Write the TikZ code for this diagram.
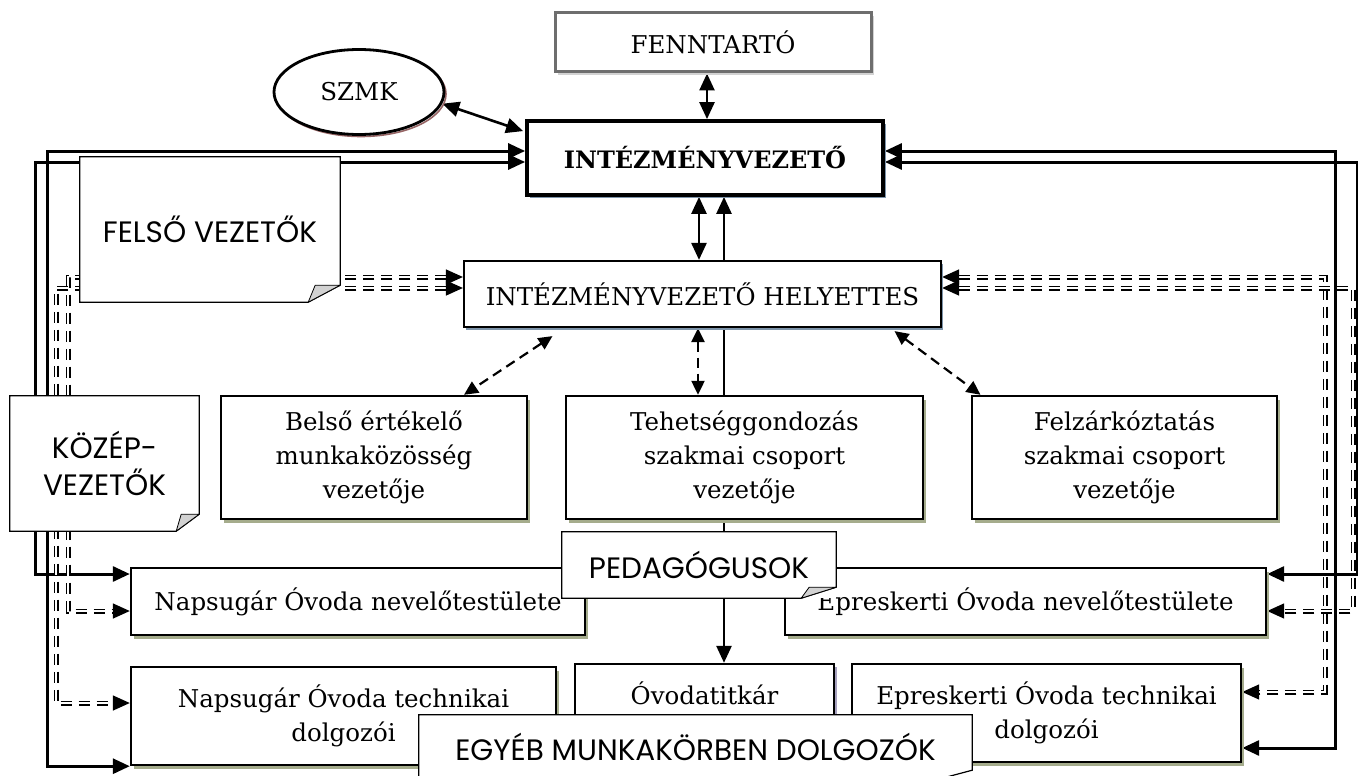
\documentclass[tikz,border=0pt]{standalone}
\usepackage{fontspec}
\setmainfont{DejaVu Serif}
\newfontfamily\gothic{Poppins}
\usetikzlibrary{arrows.meta,shapes.geometric,shadows,calc}
\pgfdeclarelayer{back}
\pgfsetlayers{back,main}
\definecolor{olivegray}{RGB}{165,172,140}
\definecolor{bluegray}{RGB}{125,148,170}
\definecolor{lavgray}{RGB}{165,160,190}
\definecolor{szmkbrown}{RGB}{150,100,100}
\definecolor{darkgray}{RGB}{110,110,110}

\begin{document}
\begin{tikzpicture}[x=1pt,y=-1pt,>={Triangle[length=17pt,width=15pt]},
  box/.style={draw, line width=2.4pt, fill=white, inner sep=0pt, align=center,
    font=\fontsize{24.5}{34}\selectfont},
  greenbox/.style={box, drop shadow={shadow xshift=3pt,shadow yshift=-4pt,opacity=1,fill=olivegray}},
  note/.style={fill=white, inner sep=0pt, align=center, font=\gothic\fontsize{29.5}{37}\selectfont},
  noteline/.style={line width=1.2pt},
  fold/.style={draw, fill=gray!35, line width=0.8pt, line join=round},
  mainline/.style={line width=3pt, <->},
  dashline/.style={line width=1.5pt, double, double distance=2pt, dash pattern=on 11pt off 7pt, <->},
  thinline/.style={line width=2.6pt, <->},
  thindash/.style={line width=2.2pt, dash pattern=on 10pt off 6pt, <->,
    >={Triangle[length=14pt,width=13pt]}}]
  \useasboundingbox (0,0) rectangle (1358,776);

  \node[box, draw=darkgray, line width=3pt, minimum width=316, minimum height=59,
    drop shadow={shadow xshift=3pt,shadow yshift=-3pt,opacity=1,fill=gray!35}] (fenn) at (713,42.5) {FENNTARTÓ};
  \node[box, line width=3.8pt, minimum width=356, minimum height=74, font=\bfseries\fontsize{24}{30}\selectfont,
    drop shadow={shadow xshift=3pt,shadow yshift=-3pt,opacity=1,fill=bluegray}] (int) at (705,158) {INTÉZMÉNYVEZETŐ};
  \node[box, line width=2.2pt, minimum width=477, minimum height=66,
    drop shadow={shadow xshift=2pt,shadow yshift=-3pt,opacity=1,fill=bluegray}] (hely) at (702.5,294) {INTÉZMÉNYVEZETŐ HELYETTES};
  \node[ellipse, draw, line width=2.8pt, fill=white, minimum width=170, minimum height=85,
    font=\fontsize{24.5}{34}\selectfont,
    preaction={draw=szmkbrown, line width=1.6pt, transform canvas={shift={(2pt,-2pt)}}}] (szmk) at (359,92) {SZMK};

  \node[greenbox, minimum width=306, minimum height=123] (belso) at (374,457.5) {Belső értékelő\\munkaközösség\\vezetője};
  \node[greenbox, minimum width=357, minimum height=123] (tehet) at (744.5,457.5) {Tehetséggondozás\\szakmai csoport\\vezetője};
  \node[greenbox, minimum width=305, minimum height=123] (felz) at (1124.5,457.5) {Felzárkóztatás\\szakmai csoport\\vezetője};
  \node[greenbox, minimum width=454, minimum height=67] (napnev) at (358,601.5) {Napsugár Óvoda nevelőtestülete};
  \node[greenbox, minimum width=481, minimum height=67] (epnev) at (1025.5,601.5) {Epreskerti Óvoda nevelőtestülete};
  \node[greenbox, minimum width=425, minimum height=98] (naptech) at (343.5,716) {Napsugár Óvoda technikai\\dolgozói};
  \node[box, minimum width=259, minimum height=58,
    drop shadow={shadow xshift=3pt,shadow yshift=-3pt,opacity=1,fill=lavgray}] (titkar) at (704.5,693) {Óvodatitkár};
  \node[greenbox, minimum width=389, minimum height=98] (eptech) at (1046.5,713) {Epreskerti Óvoda technikai\\dolgozói};

  \node[note, minimum width=260, minimum height=145] (felso) at (210,229.5) {FELSŐ VEZETŐK};
  \draw[noteline] (felso.north west) -- (felso.north east) -- ($(felso.south east)+(0,-17)$) -- ($(felso.south east)+(-32,0)$) -- (felso.south west) -- cycle;
  \filldraw[fold] ($(felso.south east)+(0,-17)$) -- ($(felso.south east)+(-25,-17)$) -- ($(felso.south east)+(-32,0)$) -- cycle;
  \node[note, minimum width=189, minimum height=135] (kozep) at (104.5,463.5) {KÖZÉP-\\VEZETŐK};
  \draw[noteline] (kozep.north west) -- (kozep.north east) -- ($(kozep.south east)+(0,-17)$) -- ($(kozep.south east)+(-23,0)$) -- (kozep.south west) -- cycle;
  \filldraw[fold] ($(kozep.south east)+(0,-17)$) -- ($(kozep.south east)+(-18,-17)$) -- ($(kozep.south east)+(-23,0)$) -- cycle;
  \node[note, minimum width=274, minimum height=66] (pedag) at (699,565) {PEDAGÓGUSOK};
  \draw[noteline] (pedag.north west) -- (pedag.north east) -- ($(pedag.south east)+(0,-11)$) -- ($(pedag.south east)+(-35,0)$) -- (pedag.south west) -- cycle;
  \filldraw[fold] ($(pedag.south east)+(0,-11)$) -- ($(pedag.south east)+(-27,-11)$) -- ($(pedag.south east)+(-35,0)$) -- cycle;
  \node[note, minimum width=553, minimum height=63] (egyeb) at (695.5,746.5) {EGYÉB MUNKAKÖRBEN DOLGOZÓK};
  \draw[noteline] (egyeb.north west) -- (egyeb.north east) -- ($(egyeb.south east)+(0,-8)$) -- ($(egyeb.south east)+(-30,0)$) -- (egyeb.south west) -- cycle;

  \begin{pgfonlayer}{back}
    \draw[mainline] (int.west |- 0,151) -| (47,400) |- (naptech.south west);
    \draw[mainline] (int.west |- 0,162) -| (35,400) |- (napnev.west |- 0,574);
    \draw[mainline] (int.east |- 0,151) -| (1335,400) |- (eptech.east |- 0,748);
    \draw[mainline] (int.east |- 0,162) -| (1357,400) |- (epnev.east |- 0,574);
    \draw[dashline] (hely.west |- 0,277) -| (68,400) |- (napnev.west |- 0,611);
    \draw[dashline] (hely.west |- 0,288) -| (56,400) |- (naptech.west |- 0,703);
    \draw[dashline] (hely.east |- 0,277) -| (1325,400) |- (eptech.east |- 0,692);
    \draw[dashline] (hely.east |- 0,288) -| (1353,400) |- (epnev.east |- 0,611);
    \draw[thinline] (fenn.south -| 707,0) -- (int.north -| 707,0);
    \draw[thinline] (szmk.-8) -- ([shift={(-2,12)}]int.north west);
    \draw[thinline] (int.south -| 699,0) -- (hely.north -| 699,0);
    \draw[thinline] (int.south -| 724,0) -- (titkar.north -| 724,0);
    \draw[thindash] ([shift={(-150,8)}]hely.south) -- ([xshift=90pt]belso.north);
    \draw[thindash] (hely.south -| 698,0) -- (tehet.north -| 698,0);
    \draw[thindash] ([shift={(192,3)}]hely.south) -- ([xshift=-144pt]felz.north);
  \end{pgfonlayer}
\end{tikzpicture}
\end{document}
